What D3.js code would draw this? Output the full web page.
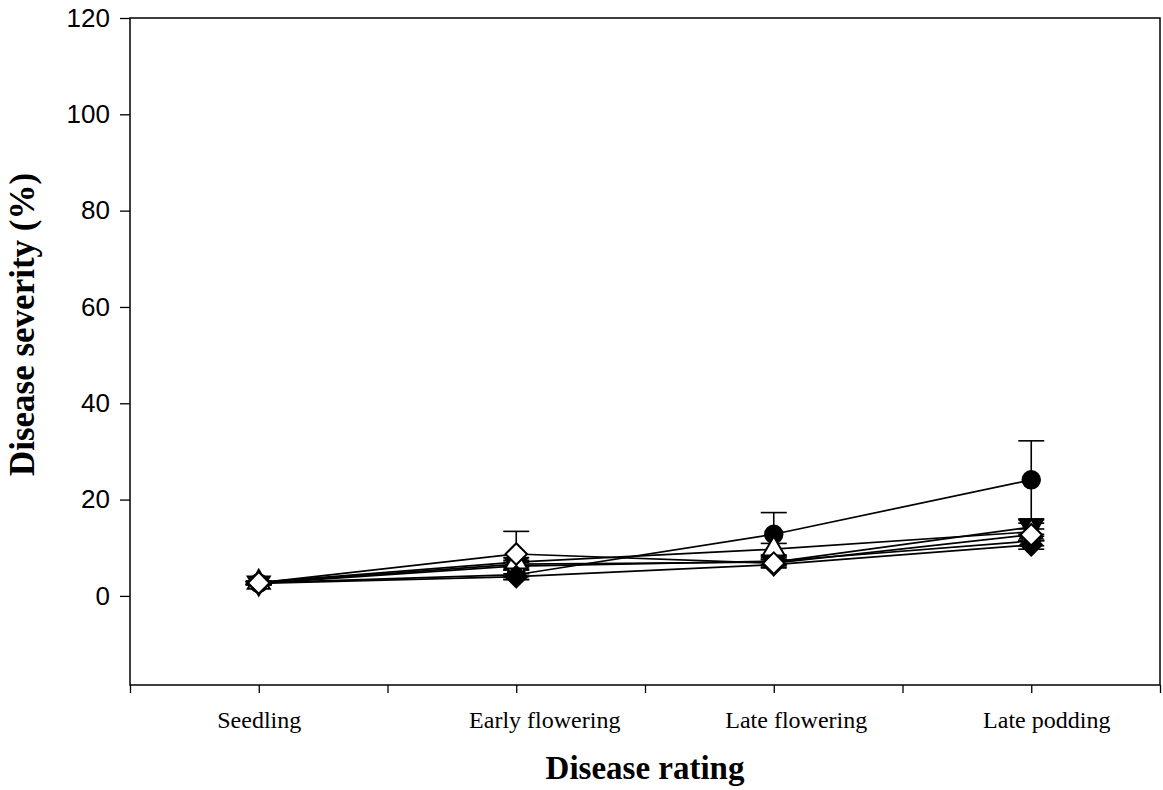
<!DOCTYPE html>
<html><head><meta charset="utf-8">
<script src="https://cdn.jsdelivr.net/npm/d3@7"></script>
<style>body{margin:0;background:#fff}</style>
</head><body>
<svg id="chart" width="1163" height="790"></svg>
<script>
const categories = ["Seedling", "Early flowering", "Late flowering", "Late podding"];
const yTicks = [0, 20, 40, 60, 80, 100, 120];
const xTicks = [0.5, 1, 1.5, 2, 2.5, 3, 3.5, 4, 4.5];
const seriesNames = ["s1", "s2", "s3", "s4", "s5", "s6"];
const seriesSymbols = ["circleFilled", "circleOpen", "triDownFilled", "triUpOpen", "diamondFilled", "diamondOpen"];
const s1 = [2.7, 4.4, 12.8, 24.1];
const s1Err = [0.3, 1.0, 4.5, 8.1];
const s2 = [2.6, 6.2, 7.2, 11.4];
const s2Err = [0.3, 0.8, 0.8, 1.0];
const s3 = [2.7, 6.6, 7.0, 14.3];
const s3Err = [0.3, 0.8, 0.6, 1.5];
const s4 = [2.8, 7.0, 9.7, 13.3];
const s4Err = [0.3, 0.9, 1.2, 1.8];
const s5 = [2.6, 4.0, 6.5, 10.6];
const s5Err = [0.3, 0.6, 0.7, 0.9];
const s6 = [2.7, 8.7, 6.8, 12.7];
const s6Err = [0.3, 4.7, 0.8, 1.2];
const seriesValues = [s1, s2, s3, s4, s5, s6];
const seriesErrors = [s1Err, s2Err, s3Err, s4Err, s5Err, s6Err];

const svg = d3.select("#chart");
const L = 130, R = 1160, T = 18, B = 685;
const x = d3.scaleLinear().domain([0.5, 4.5]).range([L, R]);
const y = d3.scaleLinear().domain([-18.5, 120]).range([B, T]);

// frame
svg.append("rect").attr("x", L).attr("y", T).attr("width", R - L).attr("height", B - T)
  .attr("fill", "none").attr("stroke", "#000").attr("stroke-width", 1.5);

// y axis
const yAxis = svg.append("g").attr("transform", `translate(${L},0)`)
  .call(d3.axisLeft(y).tickValues(yTicks).tickSize(10).tickPadding(10).tickFormat(d3.format("d")));
yAxis.select(".domain").remove();
yAxis.selectAll(".tick line").attr("stroke-width", 1.3);
yAxis.selectAll("text").attr("font-family", "Liberation Sans, Arial, sans-serif").attr("font-size", 26).attr("fill", "#000");

// x axis
const labelShift = [0, 28, 22, 15];
const xAxis = svg.append("g").attr("transform", `translate(0,${B})`)
  .call(d3.axisBottom(x).tickValues(xTicks).tickSize(8).tickPadding(18)
    .tickFormat(d => Number.isInteger(d) ? categories[d - 1] : ""));
xAxis.select(".domain").remove();
xAxis.selectAll(".tick line").attr("stroke-width", 1.3);
xAxis.selectAll("text").attr("font-family", "Liberation Serif, Times New Roman, serif").attr("font-size", 24).attr("fill", "#000")
  .attr("dx", d => Number.isInteger(d) ? labelShift[d - 1] : 0);

// titles
svg.append("text").attr("x", (L + R) / 2).attr("y", 779).attr("text-anchor", "middle")
  .attr("font-family", "Liberation Serif, Times New Roman, serif").attr("font-weight", "bold").attr("font-size", 33)
  .text("Disease rating");
svg.append("text").attr("transform", `translate(34,${(T + B) / 2 - 27}) rotate(-90)`).attr("text-anchor", "middle")
  .attr("font-family", "Liberation Serif, Times New Roman, serif").attr("font-weight", "bold").attr("font-size", 35)
  .text("Disease severity (%)");

const line = d3.line().x((d, i) => x(i + 1)).y(d => y(d));
const g = svg.append("g");

// error bars
seriesValues.forEach((vals, si) => {
  vals.forEach((v, i) => {
    const e = seriesErrors[si][i];
    const cx = x(i + 1);
    g.append("line").attr("x1", cx).attr("x2", cx).attr("y1", y(v - e)).attr("y2", y(v + e)).attr("stroke", "#000").attr("stroke-width", 1.6);
    [v - e, v + e].forEach(ev => {
      g.append("line").attr("x1", cx - 13).attr("x2", cx + 13).attr("y1", y(ev)).attr("y2", y(ev)).attr("stroke", "#000").attr("stroke-width", 1.6);
    });
  });
});

// lines
seriesValues.forEach(vals => {
  g.append("path").datum(vals).attr("d", line).attr("fill", "none").attr("stroke", "#000").attr("stroke-width", 1.7);
});

// markers
const symMap = {
  circleFilled: [d3.symbolCircle, 240, "#000"],
  circleOpen: [d3.symbolCircle, 240, "#fff"],
  triDownFilled: [d3.symbolTriangle, 210, "#000", 180],
  triUpOpen: [d3.symbolTriangle, 210, "#fff", 0],
  diamondFilled: [d3.symbolSquare, 230, "#000", 45],
  diamondOpen: [d3.symbolSquare, 230, "#fff", 45]
};
seriesValues.forEach((vals, si) => {
  const [type, size, fill, rot] = symMap[seriesSymbols[si]];
  vals.forEach((v, i) => {
    g.append("path").attr("d", d3.symbol().type(type).size(size)())
      .attr("transform", `translate(${x(i + 1)},${y(v)}) rotate(${rot || 0})`)
      .attr("fill", fill).attr("stroke", "#000").attr("stroke-width", 2);
  });
});
</script>
</body></html>
